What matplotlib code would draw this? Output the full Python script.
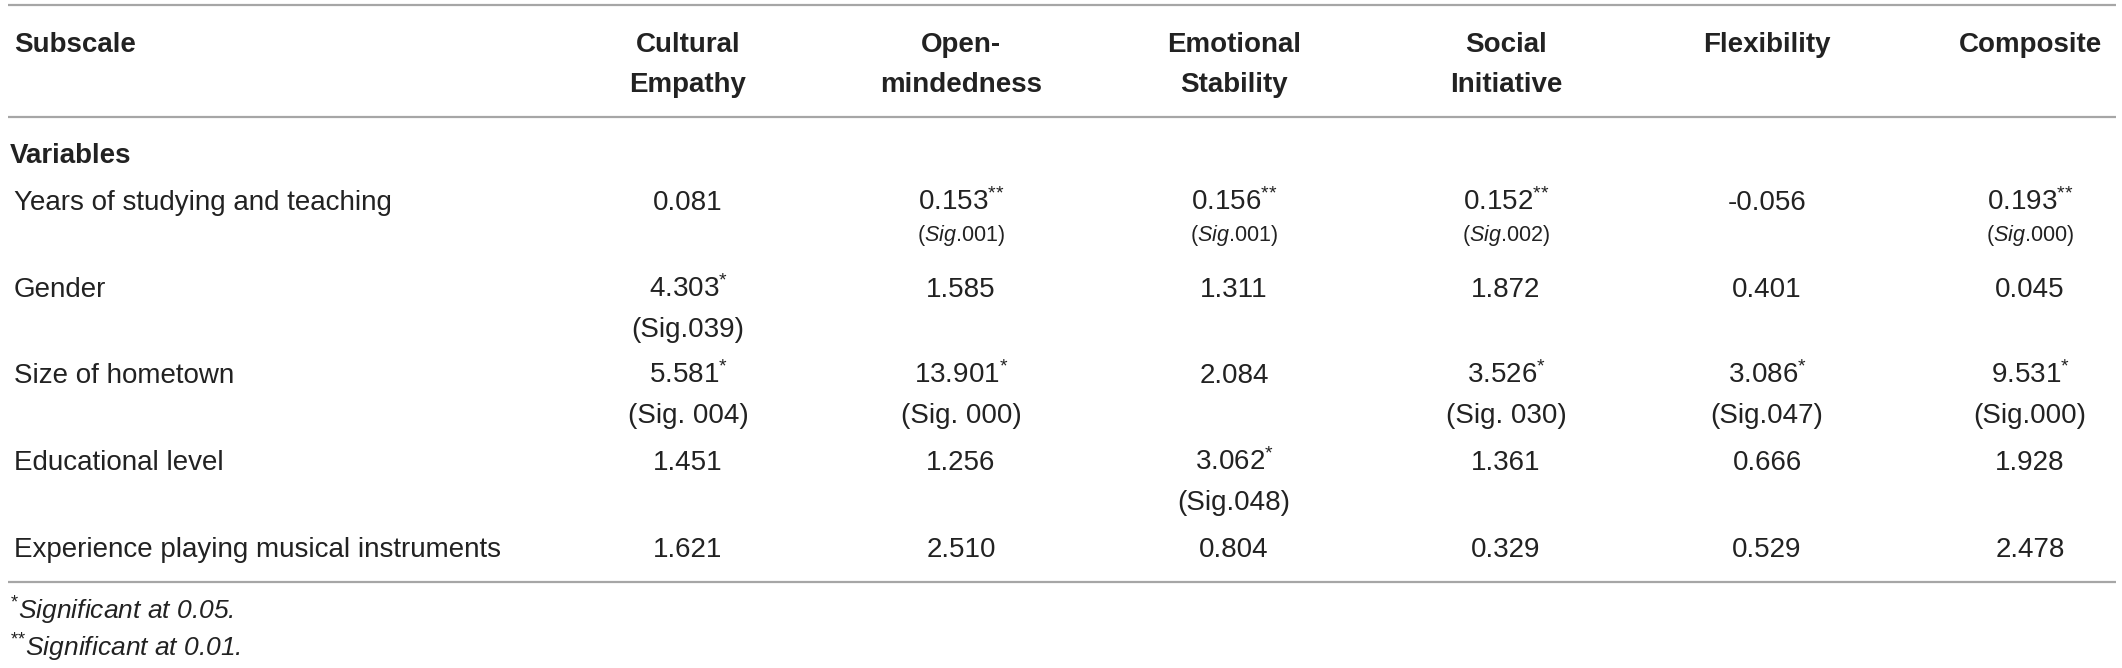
import matplotlib as mpl
mpl.use('Agg')
import matplotlib.pyplot as plt

plt.rcParams['font.family'] = ['Liberation Sans', 'DejaVu Sans']
plt.rcParams['mathtext.fontset'] = 'custom'
plt.rcParams['mathtext.rm'] = 'Liberation Sans'
plt.rcParams['mathtext.it'] = 'Liberation Sans:italic'
plt.rcParams['mathtext.bf'] = 'Liberation Sans:bold'

# table content
row_header = "Subscale"
group_label = "Variables"
subscales = ["Cultural\nEmpathy", "Open-\nmindedness", "Emotional\nStability",
             "Social\nInitiative", "Flexibility", "Composite"]
variables = ["Years of studying and teaching", "Gender", "Size of hometown",
             "Educational level", "Experience playing musical instruments"]
coef = [
    ["0.081", "0.153", "0.156", "0.152", "-0.056", "0.193"],
    ["4.303", "1.585", "1.311", "1.872", "0.401", "0.045"],
    ["5.581", "13.901", "2.084", "3.526", "3.086", "9.531"],
    ["1.451", "1.256", "3.062", "1.361", "0.666", "1.928"],
    ["1.621", "2.510", "0.804", "0.329", "0.529", "2.478"],
]
stars = [
    ["", "**", "**", "**", "", "**"],
    ["*", "", "", "", "", ""],
    ["*", "*", "", "*", "*", "*"],
    ["", "", "*", "", "", ""],
    ["", "", "", "", "", ""],
]
sig = [
    ["", "(Sig.001)", "(Sig.001)", "(Sig.002)", "", "(Sig.000)"],
    ["(Sig.039)", "", "", "", "", ""],
    ["(Sig. 004)", "(Sig. 000)", "", "(Sig. 030)", "(Sig.047)", "(Sig.000)"],
    ["", "", "(Sig.048)", "", "", ""],
    ["", "", "", "", "", ""],
]
footnotes = [("*", "Significant at 0.05."), ("**", "Significant at 0.01.")]

# layout in pixels
W, H = 2122, 668
col_x = [688, 961, 1234, 1506, 1767, 2030]
row_base = [210, 297, 383, 470, 557]
sig_gap = 40
txt = '#222222'
rule = '#a6a6a6'

def sup(mark):
    return r'$^{\text{' + mark + '}}$'

fig = plt.figure(figsize=(W / 100, H / 100), dpi=100)
ax = fig.add_axes([0, 0, 1, 1])
ax.set_xlim(0, W)
ax.set_ylim(H, 0)
ax.axis('off')

for y in [5, 117, 582]:
    ax.plot([8, 2116], [y, y], color=rule, lw=1.6, solid_capstyle='butt')

# header
ax.text(14, 52, row_header, fontsize=20, fontweight='bold', color=txt, va='baseline')
for x, lab in zip(col_x, subscales):
    for k, part in enumerate(lab.split('\n')):
        ax.text(x, 52 + 40 * k, part, fontsize=20, fontweight='bold', color=txt,
                ha='center', va='baseline')
ax.text(10, 163, group_label, fontsize=20, fontweight='bold', color=txt, va='baseline')

# body
for i, name in enumerate(variables):
    yb = row_base[i]
    ax.text(14, yb, name, fontsize=20, color=txt, va='baseline')
    for j, x in enumerate(col_x):
        s = coef[i][j]
        if stars[i][j]:
            s = s + sup(stars[i][j])
        ax.text(x, yb, s, fontsize=20, color=txt, ha='center', va='baseline')
        if sig[i][j]:
            if i == 0:
                st = sig[i][j].replace('Sig', r'$\mathit{Sig}$')
                ax.text(x, yb + 31, st, fontsize=15.5, color=txt, ha='center', va='baseline')
            else:
                ax.text(x, yb + sig_gap, sig[i][j], fontsize=20, color=txt,
                        ha='center', va='baseline')

# footnotes
for k, (mark, note) in enumerate(footnotes):
    ax.text(10, 620 + 37 * k, sup(mark) + note, fontsize=19, style='italic',
            color=txt, va='baseline')

fig.savefig('out.png', dpi=100)
